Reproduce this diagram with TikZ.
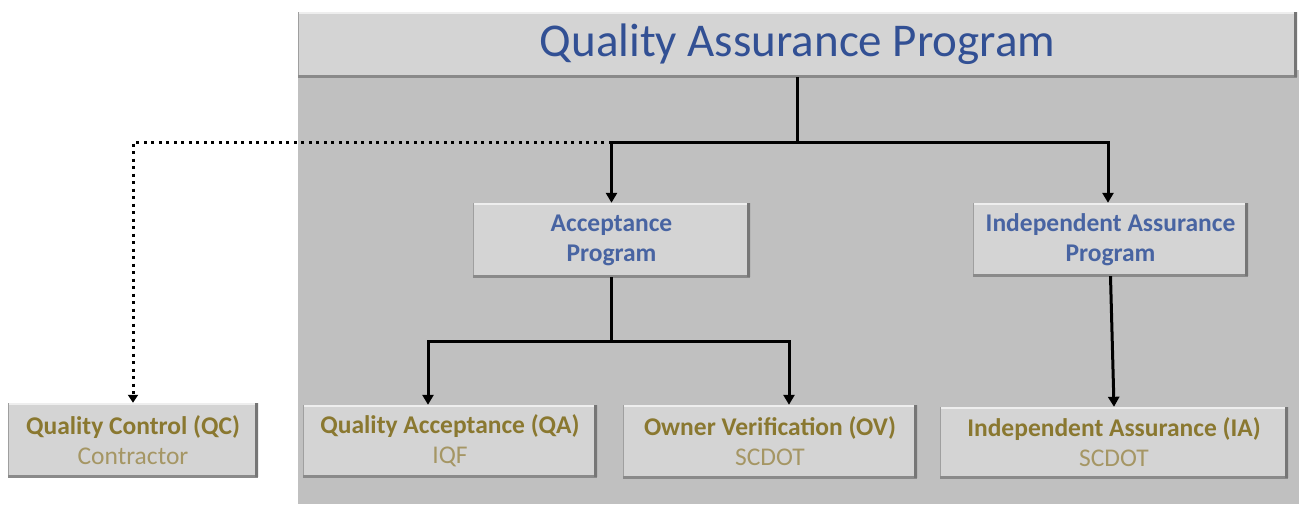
\documentclass[tikz,border=0pt]{standalone}
\usepackage{fontspec}
\setmainfont{Carlito}
\usetikzlibrary{arrows.meta,calc}
\definecolor{bggray}{RGB}{192,192,192}
\definecolor{boxfill}{RGB}{212,212,212}
\definecolor{boxdark}{RGB}{118,118,118}
\definecolor{boxhi}{RGB}{238,238,238}
\definecolor{titleblue}{RGB}{50,80,148}
\definecolor{boxblue}{RGB}{72,100,162}
\definecolor{goldtext}{RGB}{138,120,48}
\definecolor{goldlight}{RGB}{165,150,100}
\begin{document}
\begin{tikzpicture}[x=1pt,y=-1pt,
  bevel/.style={fill=boxfill, draw=none, inner sep=0pt, align=center,
    path picture={
      \draw[boxhi,line width=4pt] (path picture bounding box.north west) -- (path picture bounding box.north east);
      \draw[boxdark!70,line width=2pt] (path picture bounding box.north west) -- (path picture bounding box.south west);
      \draw[boxdark!85,line width=5pt] (path picture bounding box.south west) -- (path picture bounding box.south east);
      \draw[boxdark,line width=6pt] (path picture bounding box.north east) -- (path picture bounding box.south east);
    }},
  boxtext/.style={font=\fontsize{25.5}{30}\selectfont\bfseries},
  bluebox/.style={bevel, boxtext, text=boxblue},
  goldbox/.style={bevel, boxtext, text=goldtext},
  conn/.style={line width=3pt, black},
  arr/.style={conn, -{Triangle[length=10pt,width=11pt]}},
  dotarr/.style={line width=3pt, black, dash pattern=on 3pt off 4.5pt, -{Triangle[length=8pt,width=10pt]}}
]
\useasboundingbox (0,0) rectangle (1299,504);
\fill[white] (0,0) rectangle (1299,504);
\fill[bggray] (298,70) rectangle (1299,504);

\node[bevel, minimum width=999pt, minimum height=65pt, font=\fontsize{47}{56}\selectfont, text=titleblue] (title) at (797.5,44.5) {Quality Assurance Program};

\node[bluebox, minimum width=277pt, minimum height=74pt] (acc) at (611.5,240) {Acceptance\\Program};
\node[bluebox, minimum width=275pt, minimum height=73pt] (iap) at (1110.5,239.5) {Independent Assurance\\Program};

\node[goldbox, minimum width=250pt, minimum height=74pt] (qc) at (133,440) {Quality Control (QC)\\{\mdseries\color{goldlight}Contractor}};
\node[goldbox, minimum width=294pt, minimum height=72pt] (qa) at (450,441) {Quality Acceptance (QA)\\{\mdseries\color{goldlight}IQF}};
\node[goldbox, minimum width=294pt, minimum height=73pt] (ov) at (770,441.5) {Owner Verification (OV)\\{\mdseries\color{goldlight}SCDOT}};
\node[goldbox, minimum width=348pt, minimum height=71pt] (ia) at (1114,442.5) {Independent Assurance (IA)\\{\mdseries\color{goldlight}SCDOT}};

\coordinate (j1) at (797,142);
\coordinate (j2) at (611.5,341);

\draw[conn] (title.south -| j1) -- (j1);
\draw[arr] (j1) -| (acc.north);
\draw[arr] (j1) -| ([xshift=-2.5pt]iap.north);
\draw[dotarr] (acc.north |- j1) -| (qc.north);
\draw[conn] (acc.south) -- (j2);
\draw[arr] (j2) -| ([xshift=-22pt]qa.north);
\draw[arr] (j2) -| ([xshift=19pt]ov.north);
\draw[arr] (iap.south) -- (ia.north);
\end{tikzpicture}
\end{document}
